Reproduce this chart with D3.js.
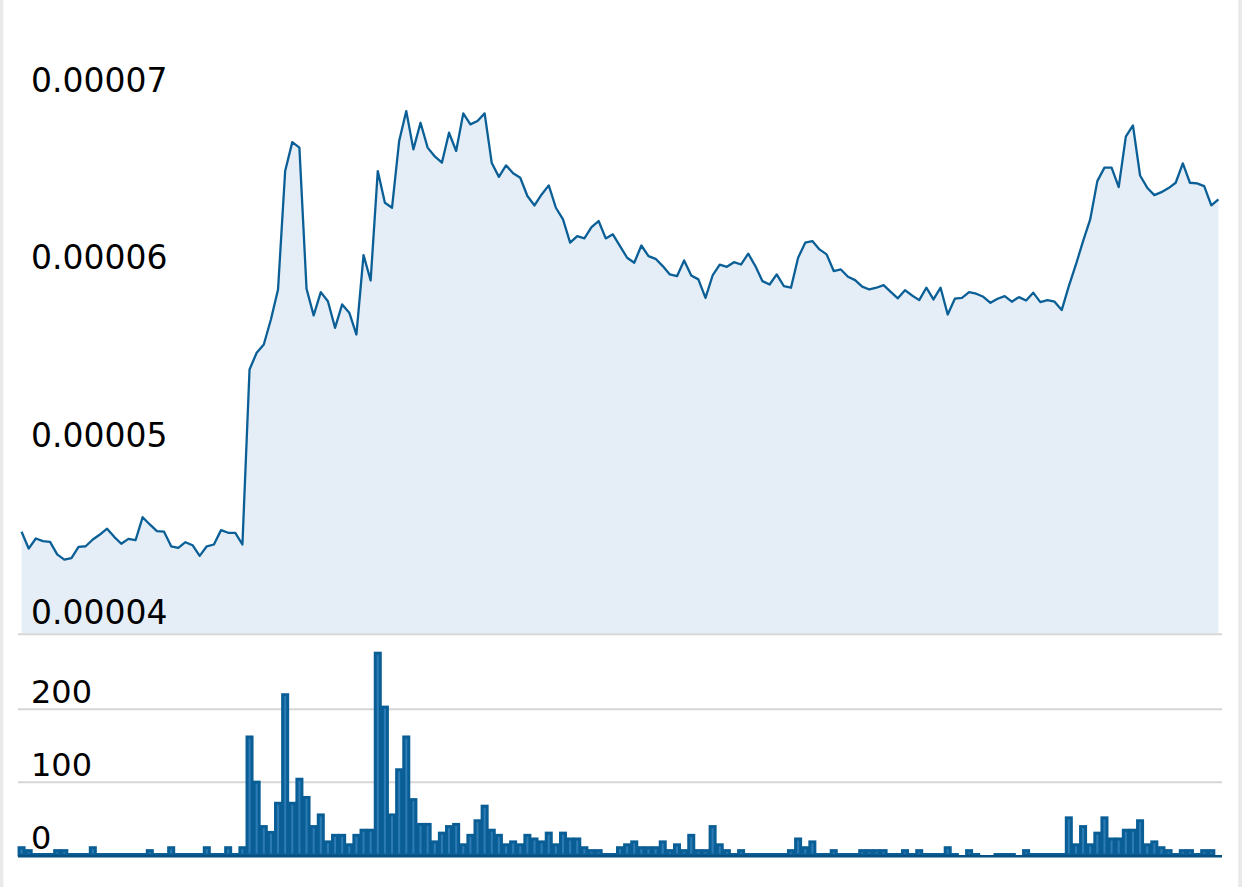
<!DOCTYPE html>
<html>
<head>
<meta charset="utf-8">
<script src="https://cdn.jsdelivr.net/npm/d3@7"></script>
<style>
html,body{margin:0;padding:0;background:#fff;}
svg{display:block;}
</style>
</head>
<body>
<svg id="chart" width="1242" height="887"></svg>
<script>
// Price, in units of 0.00001
const priceE5 = [
4.557,4.462,4.519,4.504,4.500,4.429,4.400,4.408,4.472,4.475,
4.513,4.541,4.574,4.528,4.489,4.517,4.509,4.639,4.598,4.560,
4.557,4.475,4.466,4.498,4.481,4.421,4.475,4.485,4.566,4.551,
4.551,4.485,5.472,5.566,5.613,5.754,5.923,6.591,6.754,6.723,
5.927,5.777,5.908,5.857,5.707,5.839,5.792,5.669,6.117,5.974,
6.591,6.412,6.384,6.760,6.929,6.713,6.863,6.723,6.673,6.638,
6.807,6.704,6.916,6.854,6.873,6.916,6.636,6.558,6.623,6.578,
6.553,6.450,6.397,6.459,6.510,6.384,6.318,6.187,6.224,6.211,
6.275,6.309,6.211,6.234,6.168,6.102,6.074,6.171,6.111,6.096,
6.055,6.008,5.998,6.087,6.002,5.980,5.876,6.002,6.063,6.051,
6.077,6.064,6.125,6.055,5.970,5.951,6.008,5.942,5.933,6.102,
6.187,6.196,6.149,6.121,6.027,6.036,5.995,5.976,5.939,5.923,
5.933,5.948,5.910,5.873,5.919,5.889,5.863,5.933,5.867,5.933,
5.782,5.871,5.876,5.908,5.899,5.882,5.848,5.871,5.886,5.854,
5.880,5.861,5.905,5.852,5.863,5.854,5.807,5.942,6.064,6.196,
6.318,6.534,6.610,6.610,6.500,6.785,6.848,6.566,6.497,6.455,
6.472,6.495,6.525,6.634,6.525,6.521,6.506,6.397,6.431
];

// Volume per period (null = no bar)
const volume = [
10,6,0,0,0,6,6,0,0,0,
10,0,0,0,0,0,0,0,6,0,
0,10,0,0,0,0,10,0,0,10,
0,10,162,100,39,31,71,220,71,104,
79,39,55,18,27,27,14,27,34,34,
277,203,55,117,162,76,42,42,18,30,
39,42,14,27,47,67,34,27,14,18,
14,27,22,18,30,14,30,22,22,10,
6,6,0,0,10,14,18,10,10,10,
18,6,14,6,27,6,6,39,14,6,
0,6,0,0,0,0,0,0,6,22,
10,18,0,0,6,0,0,0,6,6,
6,6,0,0,6,0,6,0,0,0,
10,0,null,6,0,null,null,0,0,0,
null,6,0,0,0,0,0,51,14,39,
14,30,51,22,22,34,34,47,14,18,
10,6,0,6,6,0,6,6,null
];

const priceTicks = [4, 5, 6, 7];
const priceTickLabels = ["0.00004", "0.00005", "0.00006", "0.00007"];
const volumeTicks = [0, 100, 200];
const volumeTickLabels = ["0", "100", "200"];
const xTickIndex = [40, 87, 136];
const xTickLabels = ["16", "1", "20"];

const svg = d3.select("#chart");
const W = 1242, H = 887;
const N = priceE5.length;

const x = d3.scaleBand().domain(d3.range(N)).range([18, 1222]).padding(0);
const cx = i => x(i) + x.bandwidth() / 2;

const yP = d3.scaleLinear().domain([4, 7]).range([630.5, 98.5]);
const yV = d3.scaleLinear().domain([0, 200]).range([855, 709.3]);

const lineColor = "#0b5f97";
const barFill = "#2c7bb4";
const barStroke = "#0a5e96";

// side frame strips
svg.append("rect").attr("x", 0).attr("y", 0).attr("width", 3.3).attr("height", H).attr("fill", "#e9e9e9");
svg.append("rect").attr("x", 1238.3).attr("y", 0).attr("width", 3.7).attr("height", H).attr("fill", "#e9e9e9");

// price area + line
const area = d3.area().x((d, i) => cx(i)).y0(633).y1(d => yP(d));
const line = d3.line().x((d, i) => cx(i)).y(d => yP(d));

svg.append("path").datum(priceE5).attr("d", area).attr("fill", "#e5eef6");
svg.append("path").datum(priceE5).attr("d", line)
  .attr("fill", "none").attr("stroke", lineColor).attr("stroke-width", 2.3)
  .attr("stroke-linejoin", "round");

// separator under price panel
svg.append("line").attr("x1", 18).attr("x2", 1222).attr("y1", 634.3).attr("y2", 634.3)
  .attr("stroke", "#d6d6d6").attr("stroke-width", 2);

// price tick labels
svg.append("g").selectAll("text").data(priceTicks).join("text")
  .attr("x", 31).attr("y", d => yP(d) - 6.5)
  .attr("font-family", "DejaVu Sans, Verdana, sans-serif")
  .attr("font-size", 33).attr("fill", "#000")
  .text((d, i) => priceTickLabels[i]);

// volume gridlines
svg.append("g").selectAll("line").data(volumeTicks.filter(d => d > 0)).join("line")
  .attr("x1", 18).attr("x2", 1222)
  .attr("y1", d => yV(d)).attr("y2", d => yV(d))
  .attr("stroke", "#d6d6d6").attr("stroke-width", 2);

// volume bars
const bw = x.bandwidth() - 2.1;
svg.append("g").selectAll("rect")
  .data(volume.map((v, i) => ({v, i})).filter(d => d.v !== null))
  .join("rect")
  .attr("x", d => x(d.i) + (x.bandwidth() - bw) / 2)
  .attr("width", bw)
  .attr("y", d => Math.min(yV(d.v), yV(0) - 0.5))
  .attr("height", d => Math.max(0.5, yV(0) - yV(d.v)))
  .attr("fill", barFill)
  .attr("stroke", barStroke)
  .attr("stroke-width", 3);

// volume baseline
svg.append("line").attr("x1", 18).attr("x2", 1222).attr("y1", 856.2).attr("y2", 856.2)
  .attr("stroke", "#064f80").attr("stroke-width", 2.4);

// volume tick labels
svg.append("g").selectAll("text").data(volumeTicks).join("text")
  .attr("x", 31).attr("y", d => yV(d) - 6.5)
  .attr("font-family", "DejaVu Sans, Verdana, sans-serif")
  .attr("font-size", 32).attr("fill", "#000")
  .text((d, i) => volumeTickLabels[i]);

// x tick labels (mostly below the visible area, as in the reference)
svg.append("g").selectAll("text").data(xTickIndex).join("text")
  .attr("x", d => cx(d)).attr("y", 912)
  .attr("text-anchor", "middle")
  .attr("font-family", "DejaVu Sans, Verdana, sans-serif")
  .attr("font-size", 33).attr("fill", "#777")
  .text((d, i) => xTickLabels[i]);
</script>
</body>
</html>
